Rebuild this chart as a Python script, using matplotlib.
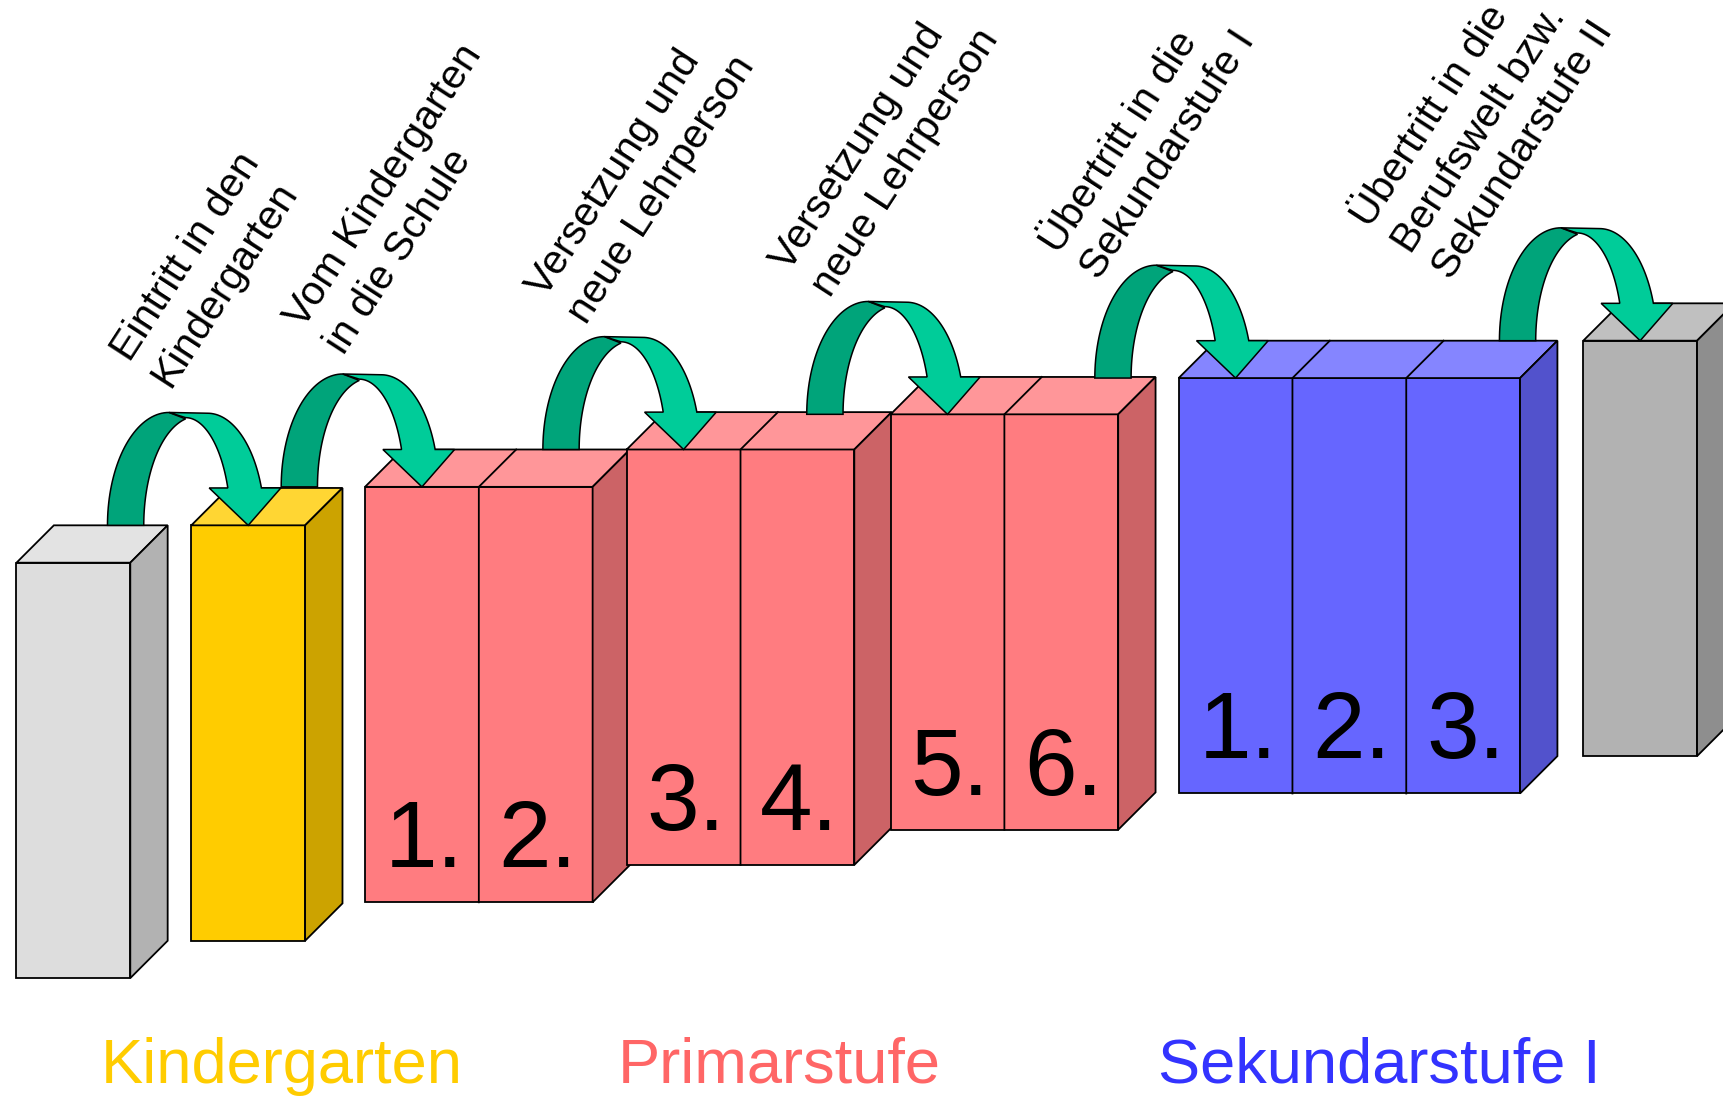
import numpy as np
import matplotlib
matplotlib.use('Agg')
import matplotlib.pyplot as plt
from matplotlib.patches import Polygon

# canvas units: reference pixels (1568 x 1000), y grows downwards
CANVAS_W, CANVAS_H = 1568, 1000

# ---- stages (boxes) ----
stage_left = [15, 174, 332, 570, 810, 1072, 1440]
stage_top = [512, 478, 443, 409, 377, 344, 310]
stage_cells = [1, 1, 2, 2, 2, 3, 1]
cell_labels = [[], [], ['1.', '2.'], ['3.', '4.'], ['5.', '6.'], ['1.', '2.', '3.'], []]
stage_kind = ['pre', 'kg', 'prim', 'prim', 'prim', 'sek', 'post']

# ---- transitions (rotated captions) ----
transition_text = [
    ['Eintritt in den', 'Kindergarten'],
    ['Vom Kindergarten', 'in die Schule'],
    ['Versetzung und', 'neue Lehrperson'],
    ['Versetzung und', 'neue Lehrperson'],
    ['Übertritt in die', 'Sekundarstufe I'],
    ['Übertritt in die', 'Berufswelt bzw.', 'Sekundarstufe II'],
]
caption_x = [118, 276, 496, 718, 963, 1246]
caption_y = [330, 300, 272, 248, 232, 208]

# ---- level names at the bottom ----
level_names = ['Kindergarten', 'Primarstufe', 'Sekundarstufe I']
level_x = [92, 562, 1053]
level_kind = ['kg', 'prim', 'sek']

# face colours: front, top, side
palette = {
    'pre': ('#DDDDDD', '#E3E3E3', '#B2B2B2'),
    'kg': ('#FFCC00', '#FFD633', '#CCA300'),
    'prim': ('#FF7C80', '#FF9699', '#CC6366'),
    'sek': ('#6666FF', '#8585FF', '#5252CC'),
    'post': ('#B2B2B2', '#C0C0C0', '#8E8E8E'),
}
text_color = {'kg': '#FFCC00', 'prim': '#FF6666', 'sek': '#3333FF'}
arrow_dark = '#00A47A'
arrow_light = '#00CC99'

CELL_W = 103.5
BOX_H = 378
DEPTH = 34
LW = 1.3

plt.rcParams['font.family'] = ['Liberation Sans', 'DejaVu Sans']

fig = plt.figure(figsize=(17.24, 10.99), dpi=100)
ax = fig.add_axes([0, 0, 1, 1])
ax.set_xlim(0, CANVAS_W)
ax.set_ylim(CANVAS_H, 0)
ax.axis('off')


def draw_box(left, top, n, kind, labels):
    front, topc, side = palette[kind]
    w = n * CELL_W
    bottom = top + BOX_H
    ax.add_patch(Polygon([(left, top), (left + w, top), (left + w, bottom), (left, bottom)],
                         closed=True, fc=front, ec='black', lw=LW, zorder=2))
    ax.add_patch(Polygon([(left, top), (left + w, top), (left + w + DEPTH, top - DEPTH),
                          (left + DEPTH, top - DEPTH)],
                         closed=True, fc=topc, ec='black', lw=LW, zorder=2))
    ax.add_patch(Polygon([(left + w, top), (left + w + DEPTH, top - DEPTH),
                          (left + w + DEPTH, bottom - DEPTH), (left + w, bottom)],
                         closed=True, fc=side, ec='black', lw=LW, zorder=2))
    for k in range(1, n):
        xk = left + k * CELL_W
        ax.plot([xk, xk, xk + DEPTH], [bottom, top, top - DEPTH], color='black', lw=LW, zorder=3)
    for k, lab in enumerate(labels):
        ax.text(left + (k + 0.5) * CELL_W + 2, bottom - 32, lab, fontsize=68,
                ha='center', va='baseline', color='black', zorder=4)


def ell(cx, a, b, t0, t1, num=40):
    t = np.radians(np.linspace(t0, t1, num))
    return np.column_stack([cx + a * np.cos(t), -b * np.sin(t)])


def draw_arrow(x0, y0):
    # dark rising part (back side of the ribbon)
    outer = ell(55, 56, 102.7, 180, 90)
    inner = ell(80, 48, 99, 102, 180)
    pts = np.vstack([outer, inner]) + [x0, y0]
    ax.add_patch(Polygon(pts, closed=True, fc=arrow_dark, ec='black', lw=1.1, zorder=5))
    # light descending part with the head
    te_o = np.degrees(np.arcsin(34 / 102))
    te_i = np.degrees(np.arcsin(34 / 98))
    outer = ell(90, 52, 102, 90, te_o)
    inner = ell(70, 41, 98, te_i, 90)
    head = np.array([[156.7, -34], [127, 0], [91.5, -34]])
    pts = np.vstack([[[55, -102.7]], outer, head, inner]) + [x0, y0]
    ax.add_patch(Polygon(pts, closed=True, fc=arrow_light, ec='black', lw=1.1, zorder=6))


for i in range(len(stage_left)):
    draw_box(stage_left[i], stage_top[i], stage_cells[i], stage_kind[i], cell_labels[i])

for i in range(len(stage_left) - 1):
    tip_x = stage_left[i + 1] + CELL_W / 2
    draw_arrow(tip_x - 127, stage_top[i + 1])

# rotated captions, one text per line
ANG = 57
spacing = 44
perp = np.array([np.sin(np.radians(ANG)), np.cos(np.radians(ANG))]) * spacing
for lines, cx, cy in zip(transition_text, caption_x, caption_y):
    for j, line in enumerate(lines):
        px, py = cx + j * perp[0], cy + j * perp[1]
        ax.text(px, py, line, fontsize=29.5, rotation=ANG, rotation_mode='anchor',
                ha='left', va='baseline', color='black', zorder=7)

for name, x, kind in zip(level_names, level_x, level_kind):
    ax.text(x, 985, name, fontsize=45.5, ha='left', va='baseline',
            color=text_color[kind], zorder=7)

fig.savefig('out.png', dpi=100, facecolor='white')
